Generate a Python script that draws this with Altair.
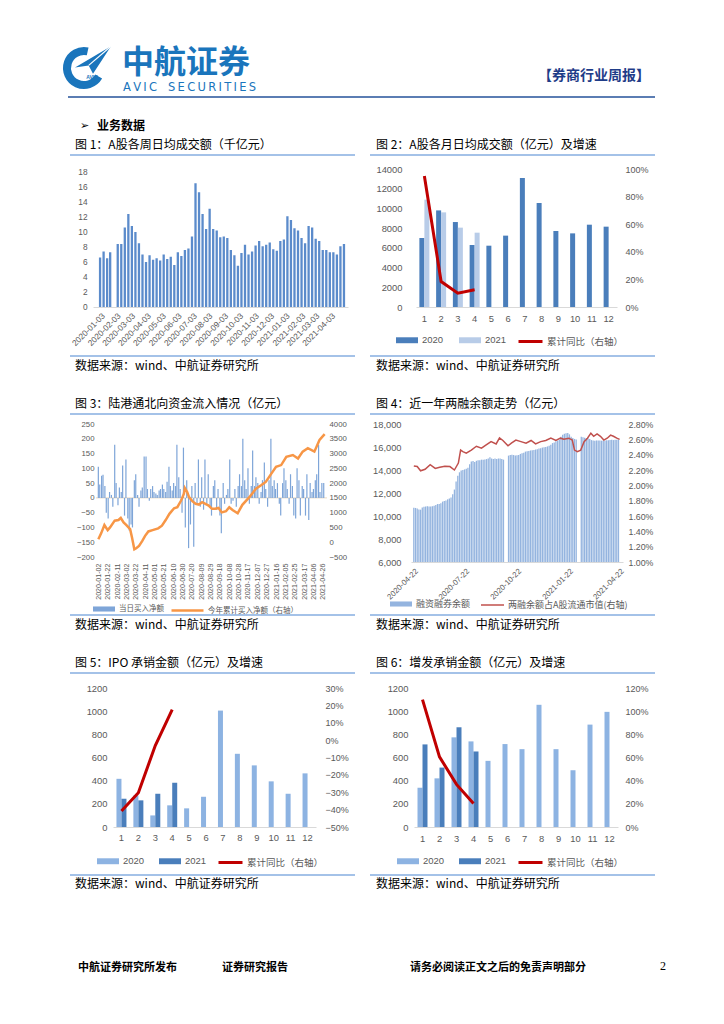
import altair as alt
import pandas as pd

CJK = "Noto Sans CJK SC"
LAT = "Liberation Sans"
GRAY = "#595959"
AXLINE = "#d9d9d9"
RULE_BLUE = "#86aee0"
LOGO_BLUE = "#1a75bc"
CW, CH = 708, 1008
SRC = "数据来源：wind、中航证券研究所"

# ---------------- data ----------------
# Fig 1: weekly average turnover (千亿元)
f1_head_dates = ["2020-01-03", "2020-01-10", "2020-01-17", "2020-01-23"]
f1_rest_start = "2020-02-07"
f1_values = [6.6, 7.4, 6.5, 7.3, 8.4, 8.4, 10.6, 12.4, 10.8, 10.0, 8.5, 7.0, 6.0, 6.9,
             6.3, 6.5, 6.2, 7.0, 6.4, 6.7, 5.6, 7.3, 6.8, 7.6, 7.8, 9.4, 16.5, 15.3,
             12.4, 10.4, 13.1, 10.4, 10.2, 9.3, 9.4, 9.2, 7.6, 6.9, 5.5, 7.2, 8.3, 7.0,
             7.4, 8.2, 8.8, 8.1, 8.3, 8.6, 7.7, 7.5, 8.8, 9.0, 12.1, 11.6, 10.5, 10.2,
             9.2, 8.5, 10.8, 10.6, 9.1, 8.8, 7.6, 7.6, 7.3, 7.3, 7.0, 8.1, 8.4]
f1_xticks = ["2020-01-03", "2020-02-03", "2020-03-03", "2020-04-03", "2020-05-03", "2020-06-03",
             "2020-07-03", "2020-08-03", "2020-09-03", "2020-10-03", "2020-11-03", "2020-12-03",
             "2021-01-03", "2021-02-03", "2021-03-03", "2021-04-03"]
f1_yticks = [0, 2, 4, 6, 8, 10, 12, 14, 16, 18]

months = [1, 2, 3, 4, 5, 6, 7, 8, 9, 10, 11, 12]
# Fig 2
f2_2020 = [7000, 9800, 8620, 6290, 6220, 7240, 13090, 10550, 7710, 7470, 8350, 8150]
f2_2021 = [10890, 9600, 8050, 7540]
f2_yoy = [0.95, 0.184, 0.100, 0.125]
f2_lticks = [0, 2000, 4000, 6000, 8000, 10000, 12000, 14000]
f2_rticks = [0, 0.2, 0.4, 0.6, 0.8, 1.0]

# Fig 3: northbound flows
f3_flow = [105, 45, 75, 78, 40, -50, -70, 20, 10, -30, 180, 50, -25, 35, 20, 110, -60, 130,
           -70, -110, -90, -100, 60, 80, 10, -30, 25, 35, 140, 140, 30, -10, 30, 40, 20, 15,
           10, 25, 30, 45, 30, 20, 55, 105, 40, 25, 50, 40, 180, 70, 30, -50, 170, -100, 60,
           -170, -90, 40, -165, 50, -20, 130, -30, 70, -40, 130, -20, 80, -30, -60, 40, 60,
           -40, 30, -60, -120, 50, -20, 10, 30, 130, -20, -10, 30, -30, 40, 80, 40, 200, 60,
           30, 100, -20, 40, 160, 40, 70, 50, -20, 20, 60, 120, 30, -30, 60, 200, 40, 60, 30,
           50, -20, -60, 50, 100, 60, 30, -20, 80, 40, -60, -70, 100, 60, -60, 40, 30, -60,
           80, -75, 50, 20, 30, 60, 80, 180, 20, 50, 50]
f3_cum_dates = ["2020-01-02", "2020-01-08", "2020-01-15", "2020-01-22", "2020-01-27", "2020-02-06",
                "2020-02-14", "2020-02-19", "2020-02-25", "2020-03-02", "2020-03-10", "2020-03-14",
                "2020-03-19", "2020-03-23", "2020-03-29", "2020-04-05", "2020-04-11", "2020-04-18",
                "2020-04-27", "2020-05-09", "2020-05-17", "2020-05-25", "2020-06-02", "2020-06-12",
                "2020-06-19", "2020-06-27", "2020-07-03", "2020-07-05", "2020-07-10", "2020-07-14",
                "2020-07-21", "2020-07-28", "2020-08-04", "2020-08-11", "2020-08-18", "2020-08-25",
                "2020-09-01", "2020-09-08", "2020-09-15", "2020-09-22", "2020-10-01", "2020-10-08",
                "2020-10-15", "2020-10-26", "2020-11-05", "2020-11-20", "2020-12-04", "2020-12-15",
                "2020-12-25", "2021-01-06", "2021-01-16", "2021-01-27", "2021-02-07", "2021-02-21",
                "2021-03-04", "2021-03-14", "2021-03-25", "2021-04-08", "2021-04-19", "2021-04-30"]
f3_cum = [100, 300, 580, 410, 500, 730, 750, 820, 670, 580, 440, 160, -240, -205, -125, 45, 215,
          365, 410, 470, 560, 750, 960, 1150, 1185, 1410, 1640, 1830, 1700, 1525, 1390, 1300, 1275,
          1355, 1300, 1240, 1130, 1130, 1160, 1010, 1050, 1185, 1090, 980, 1265, 1525, 1810, 1925,
          2040, 2320, 2550, 2610, 2890, 2950, 2835, 3065, 3180, 3065, 3460, 3655]
f3_xticks = ["2020-01-02", "2020-01-22", "2020-02-11", "2020-03-02", "2020-03-22", "2020-04-11",
             "2020-05-01", "2020-05-21", "2020-06-10", "2020-06-30", "2020-07-20", "2020-08-09",
             "2020-08-29", "2020-09-18", "2020-10-08", "2020-10-28", "2020-11-17", "2020-12-07",
             "2020-12-27", "2021-01-16", "2021-02-05", "2021-02-25", "2021-03-17", "2021-04-06",
             "2021-04-26"]
f3_lticks = [-200, -150, -100, -50, 0, 50, 100, 150, 200, 250]
f3_rticks = [-500, 0, 500, 1000, 1500, 2000, 2500, 3000, 3500, 4000]

# Fig 4: margin balance
f4_bal = [10720, 10700, 10650, 10570, 10550, 10750, 10800, 10830, 10850, 10830,
          10820, 10850, 10900, 10950, 11040, 11050, 11100, 11250, 11300, 11350,
          11450, 11530, 11600, 11900, 12300, 13000, 13500, 13800, 13950, 14000,
          14050, 14100, 14200, 14500, 14740, 14780, 14700, 14800, 14850, 14850,
          14900, 14900, 14920, 14950, 15000, 15100, 15000, 14950, 15000, 14950,
          15000, 15000, 14950, 14900, None, None,
          15250, 15300, 15320, 15300, 15260, 15280, 15300, 15400, 15450, 15500,
          15600, 15620, 15650, 15700, 15720, 15750, 15780, 15800, 15880, 15900,
          15950, 15980, 16000, 16050, 16100, 16200, 16340, 16400, 16500, 16550,
          16630, 16900, 17070, 17150, 17200, 17220, 17100, 16900, 16780, 16700,
          16650, None, None,
          16900, 16850, 16800, 16780, 16750, 16700, 16600, 16570, 16550, 16570,
          16560, 16570, 16550, 16560, 16570, 16580, 16590, 16600, 16620, 16600,
          16620, 16630, 16640]
f4_ratio_dates = ["2020-04-22", "2020-04-28", "2020-05-04", "2020-05-12", "2020-05-21", "2020-05-30",
                  "2020-06-07", "2020-06-16", "2020-06-25", "2020-07-03", "2020-07-10", "2020-07-14",
                  "2020-07-18", "2020-07-24", "2020-08-02", "2020-08-11", "2020-08-20", "2020-08-29",
                  "2020-09-06", "2020-09-15", "2020-09-21", "2020-09-27", "2020-10-06", "2020-10-12",
                  "2020-10-20", "2020-10-29", "2020-11-07", "2020-11-16", "2020-11-24", "2020-12-03",
                  "2020-12-12", "2020-12-21", "2020-12-30", "2021-01-07", "2021-01-13", "2021-01-22",
                  "2021-01-28", "2021-02-01", "2021-02-06", "2021-02-12", "2021-02-18", "2021-02-24",
                  "2021-03-02", "2021-03-07", "2021-03-13", "2021-03-19", "2021-03-25", "2021-03-31",
                  "2021-04-06", "2021-04-11", "2021-04-17", "2021-04-22"]
f4_ratio = [0.02253, 0.02245, 0.0219, 0.0221, 0.0227, 0.0222, 0.02235, 0.0225, 0.02245, 0.0220,
            0.0229, 0.0246, 0.0244, 0.0242, 0.0246, 0.0251, 0.02485, 0.0253, 0.0257, 0.0254,
            0.0262, 0.02585, 0.02515, 0.0255, 0.0259, 0.0257, 0.0255, 0.02585, 0.0254, 0.0257,
            0.02585, 0.02615, 0.02585, 0.02615, 0.0260, 0.02615, 0.0259, 0.0246, 0.0244, 0.0246,
            0.0257, 0.02615, 0.0268, 0.0264, 0.0267, 0.0264, 0.0259, 0.02615, 0.02655, 0.0264,
            0.02615, 0.0260]
f4_xticks = ["2020-04-22", "2020-07-22", "2020-10-22", "2021-01-22", "2021-04-22"]
f4_lticks = [6000, 8000, 10000, 12000, 14000, 16000, 18000]
f4_rticks = [0.010, 0.012, 0.014, 0.016, 0.018, 0.020, 0.022, 0.024, 0.026, 0.028]

# Fig 5: IPO underwriting
f5_2020 = [416, 273, 100, 187, 161, 261, 1005, 632, 532, 394, 287, 463]
f5_2021 = [244, 230, 287, 382]
f5_yoy = [-0.408, -0.303, -0.031, 0.176]
f5_rticks = [-0.5, -0.4, -0.3, -0.2, -0.1, 0.0, 0.1, 0.2, 0.3]
# Fig 6: follow-on underwriting
f6_2020 = [339, 420, 774, 739, 571, 716, 672, 1055, 672, 490, 884, 994]
f6_2021 = [713, 513, 861, 652]
f6_yoy = [1.10, 0.606, 0.368, 0.203]
f6_rticks = [0, 0.2, 0.4, 0.6, 0.8, 1.0, 1.2]
f56_lticks = [0, 200, 400, 600, 800, 1000, 1200]

# plot rectangles (left, right, top, bottom) in canvas pixels
P = {1: (85, 340, 161, 299), 2: (408, 609, 161, 299), 3: (88, 319, 416, 549),
     4: (403, 615, 416, 554), 5: (105, 308, 680, 819), 6: (406, 610, 680, 819)}

ONE = pd.DataFrame({"k": [0]})


def ms(s):
    return int(pd.Timestamp(s, tz="UTC").value // 10**6)


def txt(s, x, y, size=12, color="#000000", weight="normal", font=CJK, align="left", baseline="middle"):
    return alt.Chart(ONE).mark_text(text=s, fontSize=size, color=color, fontWeight=weight, font=font,
                                    align=align, baseline=baseline).encode(x=alt.value(x), y=alt.value(y))


def hrule(x1, x2, y, color=RULE_BLUE, w=1.6):
    return alt.Chart(ONE).mark_rule(color=color, strokeWidth=w).encode(
        x=alt.value(x1), x2=alt.value(x2), y=alt.value(y))


def yax(values, orient, offset, pad, size, fmt=None):
    kw = dict(values=values, orient=orient, offset=offset, grid=False, domain=False, ticks=False,
              tickSize=0, labelPadding=pad, labelFontSize=size, labelColor=GRAY, labelFont=LAT,
              title=None, labelOverlap=False)
    if fmt:
        kw["format"] = fmt
    return alt.Axis(**kw)


def xax_time(ticks, B, angle, size, pad, domain):
    return alt.Axis(orient="bottom", offset=B - CH, values=[ms(t) for t in ticks],
                    labelExpr="utcFormat(datum.value, '%Y-%m-%d')",
                    labelAngle=angle, labelFontSize=size, labelColor=GRAY,
                    labelFont=LAT, labelPadding=pad, labelOverlap=False, labelFlush=False,
                    ticks=False, tickSize=0, grid=False, domain=domain, domainColor=AXLINE, title=None)


def bar_legend(x, y, font, size, colpad, h=0.27):
    return alt.Legend(orient="none", legendX=x, legendY=y, direction="horizontal", title=None,
                      symbolType=f"M-1,-{h}H1V{h}H-1Z", symbolSize=484, symbolStrokeWidth=0,
                      symbolOpacity=1, labelFont=font, labelFontSize=size, labelColor=GRAY,
                      labelOffset=4, columnPadding=colpad, labelLimit=400, padding=0)


def line_legend(x, y, font, size, wpx, sw):
    return alt.Legend(orient="none", legendX=x, legendY=y, title=None, symbolType="stroke",
                      symbolSize=wpx * wpx, symbolStrokeWidth=sw, labelFont=font, labelFontSize=size,
                      labelColor=GRAY, labelOffset=3, labelLimit=400, padding=0)


# ---------------- panel 1 ----------------
L, R, T, B = P[1]
f1_dates = f1_head_dates + [d.strftime("%Y-%m-%d") for d in
                            pd.date_range(f1_rest_start, periods=len(f1_values) - len(f1_head_dates), freq="7D")]
df1 = pd.DataFrame({"d": f1_dates, "v": f1_values})
p1 = alt.Chart(df1).mark_bar(size=2.3, color="#5b8bcb").encode(
    x=alt.X("d:T", scale=alt.Scale(type="utc", domain=[ms("2019-12-20"), ms("2021-05-08")], range=[L, R], padding=0),
            axis=xax_time(f1_xticks, B, -45, 8.3, 4, True)),
    y=alt.Y("v:Q", scale=alt.Scale(domain=[0, 18.4], nice=False, range=[B, T]),
            axis=yax(f1_yticks, "left", -L, 6, 8.3)))


# ---------------- monthly panels ----------------
def monthly(idx, v20, v21, yoy, c20, c21, ldom, lticks, rdom, rticks, lpad, rpad, xpad,
            blx, bly, llx, lly, colpad):
    L, R, T, B = P[idx]
    n21 = len(v21)
    d20 = pd.DataFrame({"m": months, "yr": ["2020"] * 12, "v": v20})
    d21 = pd.DataFrame({"m": months[:n21], "yr": ["2021"] * n21, "v": v21})
    dl = pd.DataFrame({"m": months[:len(yoy)], "r": yoy, "s": ["累计同比（右轴）"] * len(yoy)})
    xax = alt.Axis(orient="bottom", offset=B - CH, labelAngle=0, ticks=False, tickSize=0, grid=False,
                   domainColor=AXLINE, labelPadding=xpad, labelFontSize=9.4, labelColor=GRAY,
                   labelFont=LAT, title=None)
    xs = alt.Scale(range=[L, R], paddingInner=0.4, paddingOuter=0.2)
    yl = alt.Y("v:Q", scale=alt.Scale(domain=ldom, nice=False, range=[B, T]),
               axis=yax(lticks, "left", -L, lpad, 9.4, "d"))
    col = alt.Color("yr:N", scale=alt.Scale(domain=["2020", "2021"], range=[c20, c21]),
                    legend=bar_legend(blx, bly, LAT, 9.5, colpad))
    b20 = alt.Chart(d20).mark_bar(size=5, xOffset=-2.5).encode(
        x=alt.X("m:O", scale=xs, axis=xax), y=yl, color=col)
    b21 = alt.Chart(d21).mark_bar(size=5, xOffset=2.5).encode(
        x=alt.X("m:O", scale=xs, axis=xax), y=yl, color=col)
    ln = alt.Chart(dl).mark_line(strokeWidth=3).encode(
        x=alt.X("m:O", scale=xs, axis=xax),
        y=alt.Y("r:Q", scale=alt.Scale(domain=rdom, nice=False, range=[B, T]),
                axis=yax(rticks, "right", R - CW, rpad, 9, ".0%")),
        stroke=alt.Stroke("s:N", scale=alt.Scale(range=["#c00000"]),
                          legend=line_legend(llx, lly, CJK, 9.5, 24, 3)))
    return alt.layer(alt.layer(b20, b21), ln).resolve_scale(y="independent")


p2 = monthly(2, f2_2020, f2_2021, f2_yoy, "#4a7ebb", "#b8cce8", [0, 14000], f2_lticks, [0, 1],
             f2_rticks, 14, 8, 7, 388, 321, 509, 320, 15)
p5 = monthly(5, f5_2020, f5_2021, f5_yoy, "#8db3e2", "#4a7ebb", [0, 1200], f56_lticks, [-0.5, 0.3],
             f5_rticks, 6, 9, 6, 89, 842, 209, 841, 14)
p6 = monthly(6, f6_2020, f6_2021, f6_yoy, "#8db3e2", "#4a7ebb", [0, 1200], f56_lticks, [0, 1.2],
             f6_rticks, 6, 7, 7, 389, 842, 509, 841, 14)

# ---------------- panel 3 ----------------
L, R, T, B = P[3]
f3_dates = [d.strftime("%Y-%m-%d") for d in pd.date_range("2020-01-02", "2021-04-28", periods=len(f3_flow))]
df3b = pd.DataFrame({"d": f3_dates, "v": f3_flow, "s": ["当日买入净额"] * len(f3_flow)})
df3l = pd.DataFrame({"d": f3_cum_dates, "c": f3_cum, "s": ["今年累计买入净额（右轴）"] * len(f3_cum)})
xs3 = alt.Scale(type="utc", domain=[ms("2019-12-28"), ms("2021-05-05")], range=[L, R], padding=0)
xax3 = xax_time(f3_xticks, B, -90, 7.1, 6, False)
ys3 = alt.Scale(domain=[-200, 250], nice=False, range=[B, T])
zero3 = alt.Chart(ONE).mark_rule(color="#ead9c1", strokeWidth=1).encode(
    x=alt.value(L), x2=alt.value(R), y=alt.datum(0))
bars3 = alt.Chart(df3b).mark_bar(size=1.2).encode(
    x=alt.X("d:T", scale=xs3, axis=xax3),
    y=alt.Y("v:Q", scale=ys3, axis=yax(f3_lticks, "left", -L, 2, 7.8)),
    color=alt.Color("s:N", scale=alt.Scale(range=["#7ea5d8"]),
                    legend=bar_legend(85, 590, CJK, 7.5, 10, 0.23)))
line3 = alt.Chart(df3l).mark_line(strokeWidth=2.5).encode(
    x=alt.X("d:T", scale=xs3, axis=xax3),
    y=alt.Y("c:Q", scale=alt.Scale(domain=[-500, 4000], nice=False, range=[B, T]),
            axis=yax(f3_rticks, "right", R - CW, 2, 7.8, "d")),
    stroke=alt.Stroke("s:N", scale=alt.Scale(range=["#f79646"]),
                      legend=line_legend(162, 585, CJK, 7.5, 32, 2.5)))
p3 = alt.layer(alt.layer(zero3, bars3), line3).resolve_scale(y="independent")

# ---------------- panel 4 ----------------
L, R, T, B = P[4]
f4_dates = [d.strftime("%Y-%m-%d") for d in pd.date_range("2020-04-22", periods=len(f4_bal), freq="3D")]
df4b = pd.DataFrame({"d": f4_dates, "v": f4_bal, "s": ["融资融券余额"] * len(f4_bal)})
df4l = pd.DataFrame({"d": f4_ratio_dates, "r": f4_ratio, "s": ["两融余额占A股流通市值(右轴)"] * len(f4_ratio)})
xs4 = alt.Scale(type="utc", domain=[ms("2020-04-17"), ms("2021-04-28")], range=[L, R], padding=0)
xax4 = xax_time(f4_xticks, B, -45, 7.8, 5, True)
bars4 = alt.Chart(df4b).mark_bar(size=1.3).encode(
    x=alt.X("d:T", scale=xs4, axis=xax4),
    y=alt.Y("v:Q", scale=alt.Scale(domain=[6000, 18000], nice=False, zero=False, range=[B, T]),
            axis=yax(f4_lticks, "left", -L, 10, 9.3, ",.0f")),
    y2=alt.datum(6000),
    color=alt.Color("s:N", scale=alt.Scale(range=["#94b4df"]),
                    legend=bar_legend(382, 585, CJK, 9, 10, 0.23)))
line4 = alt.Chart(df4l).mark_line(strokeWidth=1.5).encode(
    x=alt.X("d:T", scale=xs4, axis=xax4),
    y=alt.Y("r:Q", scale=alt.Scale(domain=[0.01, 0.028], nice=False, zero=False, range=[B, T]),
            axis=yax(f4_rticks, "right", R - CW, 5, 8.8, ".2%")),
    stroke=alt.Stroke("s:N", scale=alt.Scale(range=["#c0504d"]),
                      legend=line_legend(472, 584.5, CJK, 9, 23, 1.5)))
p4 = alt.layer(bars4, line4).resolve_scale(y="independent")

# ---------------- decorations ----------------
ROWS = {1: (137, 147, 348, 358), 2: (396, 406, 607, 617), 3: (655, 665, 867, 876)}
SIDES = {"L": (67, 62, 347), "R": (368, 362, 647)}
TITLES = [(1, "L", "图 1：A股各周日均成交额（千亿元）"),
          (1, "R", "图 2：A股各月日均成交额（亿元）及增速"),
          (2, "L", "图 3：陆港通北向资金流入情况（亿元）"),
          (2, "R", "图 4：近一年两融余额走势（亿元）"),
          (3, "L", "图 5：IPO 承销金额（亿元）及增速"),
          (3, "R", "图 6：增发承销金额（亿元）及增速")]

deco = []
for row, side, title in TITLES:
    ty, tl, sl, sy = ROWS[row]
    tx, x1, x2 = SIDES[side]
    deco += [txt(title, tx, ty, 12), hrule(x1, x2, tl), hrule(x1, x2, sl), txt(SRC, tx, sy, 12)]

TS = "\u2009"
avic_sec = TS.join("AVIC") + "\u00a0\u00a0\u00a0" + TS.join("SECURITIES")
header = [
    alt.Chart(ONE).mark_arc(theta=2.1, theta2=6.5, innerRadius=13, outerRadius=21, color=LOGO_BLUE).encode(
        x=alt.value(76), y=alt.value(60)),
    alt.Chart(ONE).mark_point(shape="M1,-0.76L-1,0.41L-0.24,0.3L0,0.76Z", filled=True, size=1296,
                              color=LOGO_BLUE, opacity=1).encode(x=alt.value(85), y=alt.value(52)),
    alt.Chart(ONE).mark_point(shape="M1,-0.76L-0.24,0.3", filled=False, size=1296, stroke="white",
                              strokeWidth=1.2, opacity=1).encode(x=alt.value(85), y=alt.value(52)),
    txt("AVIC", 84, 69, 5, LOGO_BLUE, "bold", LAT, "center"),
    txt("中航证券", 114, 65, 32, LOGO_BLUE, "bold", CJK, "left", "alphabetic"),
    txt(avic_sec, 115, 83, 11.5, LOGO_BLUE, "normal", "DejaVu Sans", "left", "alphabetic"),
    txt("【券商行业周报】", 530, 68, 14, "#1f3c88", "bold"),
    hrule(60, 647, 89, "#5b7db3", 2),
    txt("➢", 72, 118, 11, "#000000", "normal", "DejaVu Sans"),
    txt("业务数据", 89, 118, 12, "#000000", "bold"),
]
footer = [
    txt("中航证券研究所发布", 70, 960, 11, "#000000", "bold"),
    txt("证券研究报告", 214, 960, 11, "#000000", "bold"),
    txt("请务必阅读正文之后的免责声明部分", 402, 960, 11, "#000000", "bold"),
    txt("2", 652, 958, 12, "#000000", "normal", "Liberation Serif"),
]

chart = alt.layer(*header, *deco, *footer, p1, p2, p3, p4, p5, p6).resolve_scale(
    x="independent", y="independent", color="independent", stroke="independent"
).properties(
    width=CW, height=CH, autosize=alt.AutoSizeParams(type="none"), padding=0
).configure_view(stroke=None)

chart.save("out.html", embed_options={"renderer": "svg", "actions": False})
